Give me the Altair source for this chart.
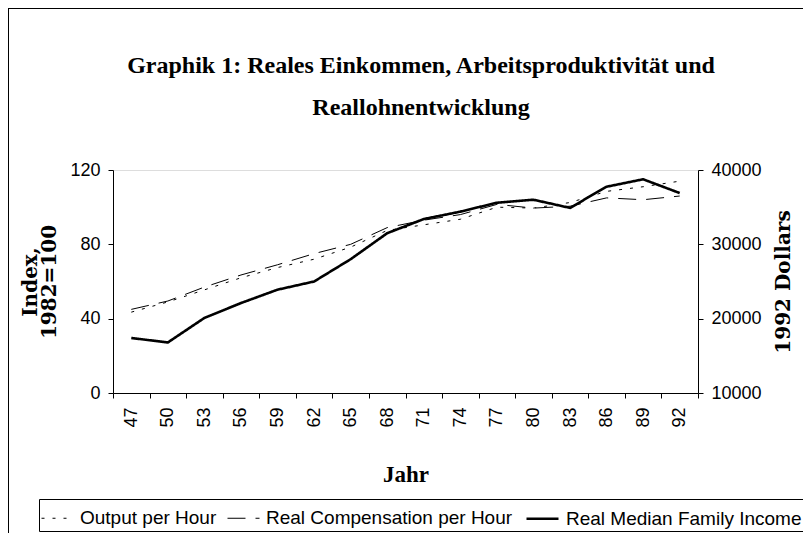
import altair as alt
import pandas as pd

title_lines = ["Graphik 1: Reales Einkommen, Arbeitsproduktivität und", "Reallohnentwicklung"]
years = ["47", "50", "53", "56", "59", "62", "65", "68", "71", "74", "77", "80", "83", "86", "89", "92"]
output_per_hour = [43.5, 49, 55.5, 62, 67.5, 72, 78.5, 87.5, 90.5, 93.5, 100, 99.5, 102.5, 108.5, 111, 114]
comp_per_hour = [45, 49.5, 57, 63.5, 69, 75, 80, 89, 93, 96, 101.5, 99.5, 100.5, 105, 104, 106]
median_income = [17400, 16800, 20100, 22100, 23900, 25000, 28000, 31500, 33400, 34400, 35600, 36000, 34900, 37750, 38750, 36900]

series_names = ["Output per Hour", "Real Compensation per Hour", "Real Median Family Income"]

left_rows = []
for y, a, b in zip(years, output_per_hour, comp_per_hour):
    left_rows.append({"year": y, "series": series_names[0], "value": a})
    left_rows.append({"year": y, "series": series_names[1], "value": b})
df_left = pd.DataFrame(left_rows)
df_right = pd.DataFrame({"year": years, "series": series_names[2], "income": median_income})

SERIF = "Liberation Serif"
AXSERIF = "DejaVu Serif"
SANS = "Liberation Sans"

x_enc = alt.X(
    "year:O", sort=years, bandPosition=0.5,
    scale=alt.Scale(type="band", paddingInner=0, paddingOuter=0),
    axis=alt.Axis(title="Jahr", tickBand="extent", labelAngle=270, labelFont=SANS,
                  labelFontSize=18, labelPadding=9, titleFont=SERIF, titleFontSize=23,
                  titleFontWeight="bold", titlePadding=36, tickSize=5, domainColor="black",
                  tickColor="black", labelColor="black", titleColor="black"),
)

dash = alt.StrokeDash("series:N", scale=alt.Scale(domain=series_names, range=[[3, 8], [18, 10], [1, 0]]),
                      legend=alt.Legend(title=None, orient="none", legendX=-74, legendY=329,
                                        direction="horizontal", symbolType="stroke", symbolSize=1024,
                                        symbolStrokeColor="black",
                                        labelFont=SANS, labelFontSize=19, labelColor="black",
                                        labelLimit=400, columnPadding=8, strokeColor="black",
                                        padding=2, labelOffset=6))
width_enc = alt.StrokeWidth("series:N", scale=alt.Scale(type="ordinal", domain=series_names, range=[1, 1, 2.6]),
                            legend=None)

left = alt.Chart(df_left).mark_line(color="black").encode(
    x=x_enc,
    y=alt.Y("value:Q", scale=alt.Scale(domain=[0, 120], nice=False),
            axis=alt.Axis(title=["Index,", "1982=100"], values=[0, 40, 80, 120], format="d",
                          labelFont=SANS, labelFontSize=18, labelPadding=8, titleFont=AXSERIF,
                          titleFontSize=20, titleFontWeight="bold", titlePadding=10,
                          titleLineHeight=19, tickSize=5, grid=False, domainColor="black",
                          tickColor="black", labelColor="black", titleColor="black")),
    strokeDash=dash,
    strokeWidth=width_enc,
)

right = alt.Chart(df_right).mark_line(color="black").encode(
    x=x_enc,
    y=alt.Y("income:Q", scale=alt.Scale(domain=[10000, 40000], nice=False),
            axis=alt.Axis(title="1992 Dollars", orient="right", values=[10000, 20000, 30000, 40000],
                          format="d", labelFont=SANS, labelFontSize=18, labelPadding=8,
                          titleFont=AXSERIF, titleFontSize=20, titleFontWeight="bold",
                          titleAngle=270, titleBaseline="top", titlePadding=12, tickSize=5,
                          grid=False, domainColor="black", tickColor="black",
                          labelColor="black", titleColor="black")),
    strokeDash=dash,
    strokeWidth=width_enc,
)

title1 = alt.Chart(pd.DataFrame({"t": [title_lines[0]]})).mark_text(
    font=SERIF, fontSize=24, fontWeight="bold", color="black", align="center", baseline="alphabetic"
).encode(text="t:N", x=alt.value(308), y=alt.value(-97))

title2 = alt.Chart(pd.DataFrame({"t": [title_lines[1]]})).mark_text(
    font=SERIF, fontSize=24, fontWeight="bold", color="black", align="center", baseline="alphabetic"
).encode(text="t:N", x=alt.value(308), y=alt.value(-55))

frame_df = pd.DataFrame({"k": [0]})
frame_left = alt.Chart(frame_df).mark_rule(color="black", strokeWidth=1).encode(
    x=alt.value(-104.5), y=alt.value(-162), y2=alt.value(420)
)
frame_top = alt.Chart(frame_df).mark_rule(color="black", strokeWidth=1).encode(
    x=alt.value(-105), x2=alt.value(700), y=alt.value(-161.5)
)

chart = alt.layer(left, right, title1, title2, frame_left, frame_top).resolve_scale(y="independent").properties(
    width=585,
    height=223,
    autosize=alt.AutoSizeParams(type="none"),
    padding={"left": 105, "top": 162, "right": 105, "bottom": 140},
).configure_view(stroke=None).configure(background="white")

chart.save("out.html", embed_options={"renderer": "svg", "actions": False})
